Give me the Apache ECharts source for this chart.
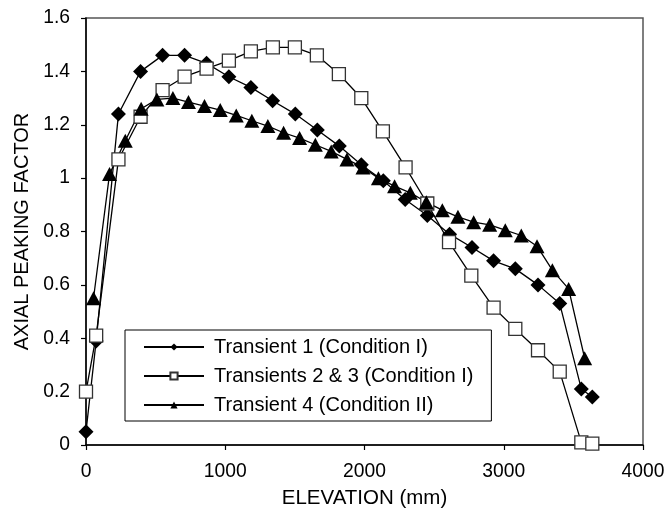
<!DOCTYPE html>
<html>
<head>
<meta charset="utf-8">
<script src="https://cdn.jsdelivr.net/npm/echarts@6/dist/echarts.min.js"></script>
<style>
html,body{margin:0;padding:0;background:#fff;}
#chart{width:669px;height:510px;}
</style>
</head>
<body>
<div id="chart"></div>
<script>
// Transient 1 (Condition I) - diamonds
var t1X = [0, 73, 233, 392, 550, 708, 866, 1026, 1184, 1340, 1503, 1661, 1819, 1977, 2135, 2292, 2451, 2611, 2772, 2927, 3083, 3246, 3402, 3557, 3636];
var t1Y = [0.05, 0.39, 1.24, 1.40, 1.46, 1.46, 1.43, 1.38, 1.34, 1.29, 1.24, 1.18, 1.12, 1.05, 0.99, 0.92, 0.86, 0.79, 0.74, 0.69, 0.66, 0.60, 0.53, 0.21, 0.18];
// Transients 2 & 3 (Condition I) - open squares
var t23X = [0, 73, 233, 392, 550, 708, 866, 1026, 1184, 1342, 1500, 1658, 1816, 1977, 2132, 2295, 2451, 2607, 2767, 2927, 3083, 3246, 3402, 3557, 3636];
var t23Y = [0.20, 0.41, 1.07, 1.23, 1.33, 1.38, 1.41, 1.44, 1.475, 1.49, 1.49, 1.46, 1.39, 1.30, 1.175, 1.04, 0.905, 0.76, 0.635, 0.515, 0.435, 0.355, 0.275, 0.01, 0.005];
// Transient 4 (Condition II) - triangles
var t4X = [54, 169, 282, 396, 509, 624, 736, 851, 964, 1079, 1191, 1306, 1419, 1534, 1647, 1761, 1874, 1989, 2100, 2216, 2329, 2444, 2559, 2671, 2784, 2899, 3011, 3126, 3239, 3349, 3466, 3581];
var t4Y = [0.55, 1.015, 1.14, 1.26, 1.295, 1.30, 1.285, 1.27, 1.255, 1.235, 1.215, 1.195, 1.17, 1.15, 1.125, 1.10, 1.07, 1.04, 1.00, 0.97, 0.945, 0.91, 0.88, 0.855, 0.835, 0.825, 0.805, 0.785, 0.745, 0.655, 0.585, 0.325];

var seriesNames = ['Transient 1 (Condition I)', 'Transients 2 & 3 (Condition I)', 'Transient 4 (Condition II)'];
var xTitle = 'ELEVATION (mm)';
var yTitle = 'AXIAL PEAKING FACTOR';

function pairs(xs, ys) { return xs.map(function (x, i) { return [x, ys[i]]; }); }

var font = '"Liberation Sans", Arial, sans-serif';
var chart = echarts.init(document.getElementById('chart'), null, {renderer: 'canvas'});
chart.setOption({
  animation: false,
  backgroundColor: '#fff',
  grid: {left: 86, right: 26, top: 18, bottom: 65, containLabel: false, outerBoundsMode: 'none',
    show: true, borderColor: '#555', borderWidth: 1.5, backgroundColor: 'transparent'},
  xAxis: {
    type: 'value', min: 0, max: 4000, interval: 1000,
    name: xTitle, nameLocation: 'middle', nameGap: 43,
    nameTextStyle: {fontFamily: font, fontSize: 20.5, color: '#000'},
    axisLine: {show: true, onZero: false, lineStyle: {color: '#000', width: 1.5}},
    axisTick: {show: true, inside: false, length: 5, lineStyle: {color: '#000', width: 1.2}},
    axisLabel: {fontFamily: font, fontSize: 19.3, color: '#000', margin: 17,
      formatter: function (v) { return String(v); }},
    splitLine: {show: false}
  },
  yAxis: {
    type: 'value', min: 0, max: 1.6, interval: 0.2,
    name: yTitle, nameLocation: 'middle', nameGap: 54, nameRotate: 90,
    nameTextStyle: {fontFamily: font, fontSize: 20, color: '#000'},
    axisLine: {show: true, lineStyle: {color: '#000', width: 1.5}},
    axisTick: {show: true, inside: false, length: 5, lineStyle: {color: '#000', width: 1.2}},
    axisLabel: {fontFamily: font, fontSize: 19.3, color: '#000', margin: 16,
      formatter: function (v) { return String(Math.round(v * 10) / 10); }},
    splitLine: {show: false}
  },
  legend: {
    orient: 'vertical', left: 125, top: 330,
    backgroundColor: '#fff', borderColor: '#000', borderWidth: 1,
    padding: [6, 18, 5, 18], itemGap: 7,
    itemWidth: 60, itemHeight: 9,
    textStyle: {fontFamily: font, fontSize: 20, color: '#000', lineHeight: 22, padding: [0, 0, 0, 5]},
    data: seriesNames
  },
  series: [
    {
      name: seriesNames[0], type: 'line', data: pairs(t1X, t1Y),
      symbol: 'diamond', symbolSize: 15,
      lineStyle: {color: '#000', width: 1.3},
      itemStyle: {color: '#000', borderColor: '#000', borderWidth: 0}
    },
    {
      name: seriesNames[1], type: 'line', data: pairs(t23X, t23Y),
      symbol: 'rect', symbolSize: 13,
      lineStyle: {color: '#000', width: 1.3},
      itemStyle: {color: '#fff', borderColor: '#333', borderWidth: 1.3}
    },
    {
      name: seriesNames[2], type: 'line', data: pairs(t4X, t4Y),
      symbol: 'triangle', symbolSize: [15, 14],
      lineStyle: {color: '#000', width: 1.3},
      itemStyle: {color: '#000', borderColor: '#000', borderWidth: 0}
    }
  ]
});
</script>
</body>
</html>
